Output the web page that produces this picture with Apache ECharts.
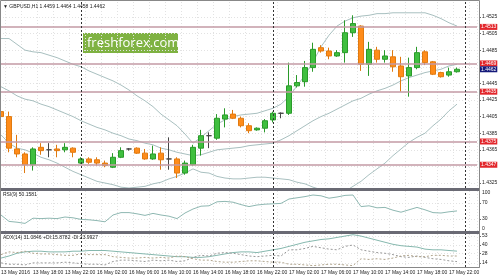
<!DOCTYPE html>
<html><head><meta charset="utf-8">
<style>html,body{margin:0;padding:0;background:#fff}#c{width:500px;height:277px}</style>
<script src="https://cdn.jsdelivr.net/npm/echarts@6/dist/echarts.min.js"></script>
</head><body><div id="c"></div>
<script>
const times = ['13 May 14:00','13 May 15:00','13 May 16:00','13 May 17:00','13 May 18:00','13 May 19:00','13 May 20:00','13 May 21:00','13 May 22:00','13 May 23:00',
'16 May 00:00','16 May 01:00','16 May 02:00','16 May 03:00','16 May 04:00','16 May 05:00','16 May 06:00','16 May 07:00','16 May 08:00','16 May 09:00',
'16 May 10:00','16 May 11:00','16 May 12:00','16 May 13:00','16 May 14:00','16 May 15:00','16 May 16:00','16 May 17:00','16 May 18:00','16 May 19:00',
'16 May 20:00','16 May 21:00','16 May 22:00','16 May 23:00','17 May 00:00','17 May 01:00','17 May 02:00','17 May 03:00','17 May 04:00','17 May 05:00',
'17 May 06:00','17 May 07:00','17 May 08:00','17 May 09:00','17 May 10:00','17 May 11:00','17 May 12:00','17 May 13:00','17 May 14:00','17 May 15:00',
'17 May 16:00','17 May 17:00','17 May 18:00','17 May 19:00','17 May 20:00','17 May 21:00','17 May 22:00','17 May 23:00','18 May 00:00','18 May 01:00'];
const firstLabel = '13 May 2016';
const open = [1.4411,1.4405,1.4366,1.4360,1.4347,1.4368,1.4365,1.4366,1.4365,1.4367,
 1.4349,1.4354,1.4353,1.4349,1.4344,1.4356,1.4366,1.4367,1.4361,1.4354,
 1.4361,1.4354,1.4354,1.4337,1.4347,1.4367,1.4382,1.4379,1.4402,1.4408,
 1.4403,1.4394,1.4389,1.4391,1.4401,1.4409,1.4409,1.4442,1.4447,1.4464,
 1.4488,1.4484,1.4478,1.4482,1.4506,1.4514,1.4468,1.4485,1.4474,1.4477,
 1.4466,1.4454,1.4464,1.4483,1.4471,1.4458,1.4455,1.4459];
const close = [1.4405,1.4367,1.4360,1.4347,1.4366,1.4364,1.4365,1.4364,1.4368,1.4362,
 1.4354,1.4350,1.4349,1.4346,1.4356,1.4364,1.4366,1.4361,1.4354,1.4360,
 1.4353,1.4354,1.4337,1.4349,1.4368,1.4382,1.4382,1.4403,1.4407,1.4403,
 1.4394,1.4388,1.4391,1.4400,1.4409,1.4409,1.4442,1.4446,1.4464,1.4486,
 1.4484,1.4478,1.4482,1.4506,1.4517,1.4468,1.4486,1.4474,1.4478,1.4465,
 1.4453,1.4464,1.4482,1.4470,1.4456,1.4453,1.4459,1.4462];
const high = [1.4413,1.4411,1.4383,1.4362,1.4368,1.4373,1.4373,1.4371,1.4373,1.4368,
 1.4356,1.4356,1.4356,1.4352,1.4361,1.4368,1.4367,1.4368,1.4366,1.4370,
 1.4368,1.4380,1.4356,1.4352,1.4371,1.4389,1.4386,1.4408,1.4415,1.4413,
 1.4405,1.4397,1.4392,1.4402,1.4411,1.4410,1.4470,1.4455,1.4472,1.4494,
 1.4491,1.4488,1.4485,1.4521,1.4527,1.4515,1.4495,1.4489,1.4485,1.4485,
 1.4477,1.4476,1.4489,1.4485,1.4472,1.4459,1.4464,1.4464];
const low = [1.4403,1.4362,1.4356,1.4337,1.4340,1.4359,1.4356,1.4356,1.4362,1.4356,
 1.4348,1.4348,1.4346,1.4344,1.4343,1.4355,1.4364,1.4360,1.4353,1.4353,
 1.4341,1.4341,1.4331,1.4335,1.4346,1.4358,1.4367,1.4377,1.4392,1.4402,
 1.4392,1.4385,1.4388,1.4386,1.4398,1.4403,1.4407,1.4440,1.4441,1.4459,
 1.4482,1.4474,1.4477,1.4470,1.4501,1.4460,1.4454,1.4470,1.4470,1.4459,
 1.4435,1.4429,1.4462,1.4467,1.4455,1.4452,1.4453,1.4458];
const bbUpper = [1.4499,1.4499,1.4492,1.4485,1.4483,1.4482,1.4479,1.4476,1.4472,1.4468,
 1.4465,1.4460,1.4456,1.4452,1.4448,1.4443,1.4437,1.4430,1.4424,1.4417,
 1.4408,1.4401,1.4394,1.4384,1.4373,1.4380,1.4388,1.4396,1.4401,1.4405,
 1.4407,1.4408,1.4409,1.4412,1.4415,1.4420,1.4429,1.4442,1.4455,1.4471,
 1.4489,1.4503,1.4514,1.4520,1.4524,1.4526,1.4527,1.4529,1.4529,1.4530,
 1.4530,1.4530,1.4530,1.4530,1.4527,1.4523,1.4518,1.4514];
const bbMiddle = [1.4441,1.4436,1.4430,1.4426,1.4424,1.4420,1.4417,1.4413,1.4409,1.4405,
 1.4400,1.4396,1.4392,1.4389,1.4385,1.4382,1.4378,1.4376,1.4373,1.4371,
 1.4367,1.4365,1.4362,1.4360,1.4358,1.4359,1.4362,1.4365,1.4366,1.4367,
 1.4368,1.4370,1.4371,1.4372,1.4373,1.4377,1.4382,1.4388,1.4394,1.4400,
 1.4405,1.4409,1.4414,1.4419,1.4424,1.4427,1.4432,1.4436,1.4439,1.4443,
 1.4448,1.4452,1.4455,1.4458,1.4460,1.4462,1.4466,1.4468];
const bbLower = [1.4383,1.4373,1.4367,1.4365,1.4361,1.4356,1.4353,1.4349,1.4344,1.4339,
 1.4335,1.4331,1.4327,1.4325,1.4323,1.4320,1.4319,1.4320,1.4321,1.4324,
 1.4326,1.4330,1.4333,1.4337,1.4342,1.4338,1.4337,1.4333,1.4331,1.4330,
 1.4330,1.4331,1.4332,1.4332,1.4331,1.4330,1.4329,1.4326,1.4324,1.4320,
 1.4317,1.4313,1.4312,1.4315,1.4321,1.4327,1.4335,1.4342,1.4349,1.4358,
 1.4366,1.4374,1.4380,1.4385,1.4394,1.4402,1.4412,1.4420];
const rsi = [40,24,22,19,32,31,32,31,35,33, 29,28,26,23,40,46,46,43,39,44,
 40,37,31,45,55,62,63,73,74,72, 66,61,65,67,68,69,80,83,86,90,
 88,82,85,89,90,61,63,58,59,52, 47,53,59,53,46,45,48,50.16];
const adx = [21,24,28,30,31,31,30,30,30,31, 31,32,32,32,31,30,29,28,27,26,
 25,24,23,23,22,22,23,25,27,29, 30,30,29,31,33,35,38,41,44,46,
 48,49,51,53,55,53,50,47,44,41, 39,38,37,34,33,33,32,31.08];
const plusDI = [14,12,12,11,14,14,14,14,15,14, 13,12,12,11,16,18,18,17,16,18,
 17,18,16,17,22,25,24,28,29,28, 26,24,23,24,25,24,33,33,35,38,
 36,34,33,38,40,33,31,29,28,26, 23,22,24,22,20,19,17,15.88];
const minusDI = [26,30,29,31,28,27,27,26,25,25, 27,26,26,26,23,22,21,21,22,21,
 22,21,24,23,20,18,18,16,15,15, 16,17,17,16,15,15,12,12,11,10,
 11,12,12,11,10,20,19,20,19,21, 24,25,23,23,25,25,24,23.99];
const levels = [1.4513, 1.4469, 1.4435, 1.4375, 1.4347];
const bidPrice = 1.4462;
const priceTicks = [1.4325,1.4345,1.4365,1.4385,1.4405,1.4425,1.4445,1.4465,1.4485,1.4505,1.4525];
const priceLabels = [1.4325,1.4365,1.4385,1.4405,1.4425,1.4445,1.4485,1.4505,1.4525];
const rsiTicks = [0,30,70,100];
const adxTicks = [14,28,40,53];
const separators = ['16 May 00:00','17 May 00:00','18 May 00:00'];
const titleText = '\u25BC GBPUSD,H1 1.4459 1.4464 1.4458 1.4462';
const rsiText = 'RSI(9) 50.1581';
const adxText = 'ADX(14) 31.0846 +DI:15.8782 -DI:23.9927';
const logoText = 'freshforex.com';

const FONT = 'Liberation Sans';
const chart = echarts.init(document.getElementById('c'), null, {renderer:'canvas', width:500, height:277});
const candleData = open.map((o,i)=>[o, close[i], low[i], high[i]]);
const sepData = separators.map(s=>({xAxis:s}));
const sepStyle = {color:'#333', type:[2,2], width:1};
const sepMark = {silent:true, symbol:['none','none'], animation:false, label:{show:false},
  lineStyle:sepStyle, data: sepData};
const gridLine = {color:'#e2e2e2', type:[1,2], width:1};
function xAx(gi, labels){
  return {type:'category', gridIndex:gi, data:times, boundaryGap:true,
    axisLine:{show:labels, lineStyle:{color:'#777'}}, axisTick:{show:false},
    axisLabel: labels ? {show:true, interval:3, align:'left', fontSize:5, color:'#222', margin:3, fontFamily:FONT,
      formatter:(v,i)=> i===0 ? firstLabel : v} : {show:false},
    splitLine:{show:true, interval:(i)=> i%2===1, lineStyle:gridLine}};
}
function yAx(gi, min, max, ticks, labels, fmt, rich){
  return {type:'value', gridIndex:gi, position:'right', offset:2, min:min, max:max,
    axisLine:{show:true, lineStyle:{color:'#666'}},
    axisTick:{show:true, length:2, customValues:ticks, lineStyle:{color:'#666'}},
    axisLabel:{show:true, customValues:labels, fontSize:5, color:'#222', margin:3, fontFamily:FONT, formatter:fmt, rich:rich||{}},
    splitLine:{show:true, lineStyle:gridLine}};
}
const boxLabel = (bg)=>({show:true, position:'end', distance:3, formatter:(p)=>Number(p.value).toFixed(4), color:'#fff',
    backgroundColor:bg, fontSize:5, padding:[1,1,0,1], fontFamily:FONT, opacity:1});
const levelData = levels.map(v=>({yAxis:v, lineStyle:{color:'#c39aa4', width:1.5, type:'solid'}, label:boxLabel('#e2262b')}));
levelData.push({yAxis:bidPrice, lineStyle:{color:'rgba(255,255,255,0)', width:1, type:'solid'}, label:boxLabel('#14197a')});
const bandStyle = {color:'#a9c0c0', width:1};
const rsiRich = {t:{fontSize:5, color:'#222', padding:[4,0,0,0]}, b:{fontSize:5, color:'#222', padding:[0,0,5,0]}};
const option = {
  animation:false,
  backgroundColor:'#fff',
  textStyle:{fontFamily:FONT},
  title:[
    {text:titleText, left:3, top:4, padding:0, textStyle:{fontSize:5, fontWeight:'normal', color:'#222', fontFamily:FONT}},
    {text:rsiText, left:3, top:192, padding:0, textStyle:{fontSize:5, fontWeight:'normal', color:'#222', fontFamily:FONT}},
    {text:adxText, left:3, top:235, padding:0, textStyle:{fontSize:5, fontWeight:'normal', color:'#222', fontFamily:FONT}}
  ],
  grid:[
    {left:-3, top:2, width:480, height:186, outerBoundsMode:'none'},
    {left:-3, top:191, width:480, height:40, outerBoundsMode:'none'},
    {left:-3, top:234, width:480, height:33, outerBoundsMode:'none'}
  ],
  xAxis:[xAx(0,false), xAx(1,false), xAx(2,true)],
  yAxis:[
    yAx(0, 1.4319, 1.4543, priceTicks, priceLabels, v=>v.toFixed(4)),
    yAx(1, 0, 100, [30,70], rsiTicks, v=> v===100 ? '{t|100}' : (v===0 ? '{b|0}' : String(v)), rsiRich),
    yAx(2, 8, 56, adxTicks, adxTicks, v=>String(v))
  ],
  series:[
    {type:'line', xAxisIndex:0, yAxisIndex:0, data:bbUpper, showSymbol:false, lineStyle:bandStyle, z:2, silent:true},
    {type:'line', xAxisIndex:0, yAxisIndex:0, data:bbMiddle, showSymbol:false, lineStyle:bandStyle, z:2, silent:true},
    {type:'line', xAxisIndex:0, yAxisIndex:0, data:bbLower, showSymbol:false, lineStyle:bandStyle, z:2, silent:true},
    {type:'candlestick', xAxisIndex:0, yAxisIndex:0, data:candleData, barWidth:5, z:3,
      itemStyle:{color:'#3fbf3f', color0:'#ff8c1a', borderColor:'#2a9a2a', borderColor0:'#e07a10', borderColorDoji:'#444', borderWidth:1},
      markLine:{silent:true, symbol:['none','none'], animation:false, precision:4,
        data: levelData.concat(sepData.map(d=>Object.assign({}, d, {lineStyle:sepStyle, label:{show:false}})))}},
    {type:'line', xAxisIndex:1, yAxisIndex:1, data:rsi, showSymbol:false, lineStyle:{color:'#8fb8b2', width:1}, markLine:sepMark},
    {type:'line', xAxisIndex:2, yAxisIndex:2, data:adx, showSymbol:false, lineStyle:{color:'#86b8ae', width:1}, markLine:sepMark},
    {type:'line', xAxisIndex:2, yAxisIndex:2, data:plusDI, showSymbol:false, lineStyle:{color:'#9a9a9a', width:1, type:[2,2]}},
    {type:'line', xAxisIndex:2, yAxisIndex:2, data:minusDI, showSymbol:false, lineStyle:{color:'#b0a48c', width:1, type:[2,2]}}
  ],
  graphic:[
    {type:'rect', left:0, top:188, shape:{width:480, height:3}, style:{fill:'#6a6a74'}, z:100},
    {type:'rect', left:0, top:231, shape:{width:480, height:3}, style:{fill:'#6a6a74'}, z:100},
    {type:'rect', shape:{x:0.5, y:0.5, width:479, height:267}, style:{fill:'none', stroke:'#888', lineWidth:1}, z:100},
    {type:'group', left:83, top:33, z:50, children:[
      {type:'rect', shape:{x:0, y:0, width:95, height:20}, style:{fill:'#7fb242'}},
      {type:'text', x:4, y:10.5, style:{text:logoText, fill:'#fff', font:'13px "Open Sans"', textVerticalAlign:'middle', verticalAlign:'middle'}}
    ]}
  ]
};
chart.setOption(option);
</script></body></html>
